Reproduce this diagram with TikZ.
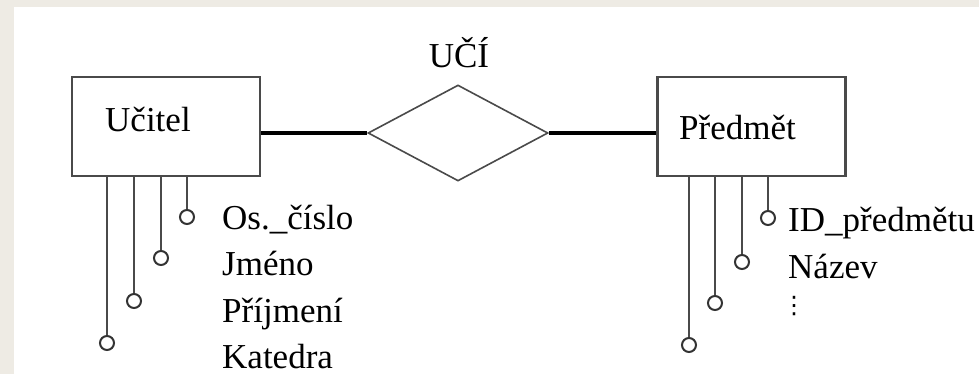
\documentclass[tikz,border=0pt]{standalone}
\usepackage{fontspec}
\setmainfont{Liberation Serif}
\newfontfamily\symfont{DejaVu Sans}
\usepackage{xcolor}
\usetikzlibrary{positioning,shapes.geometric}
\definecolor{pagebg}{HTML}{EEEBE4}
\definecolor{linegray}{HTML}{4A4A4A}

\begin{document}
\begin{tikzpicture}[
    x=1pt, y=-1pt,
    entity_box/.style={
        draw=linegray, line width=2.6pt, fill=white,
        minimum width=188pt, minimum height=99pt, inner sep=0pt
    },
    rel_diamond/.style={
        diamond, draw=linegray, line width=1.6pt,
        minimum width=180pt, minimum height=96pt, inner sep=0pt
    },
    big_text/.style={
        font=\fontsize{35}{42}\selectfont, inner sep=0pt
    },
    link/.style={
        black, line width=3.6pt
    },
    attr_dot/.style={
        circle, draw=black!80, line width=2pt, fill=white,
        minimum size=14pt, inner sep=0pt
    },
    attr_line/.style={
        linegray, line width=2.6pt
    },
    attr_text/.style={
        big_text, anchor=base west
    }
    ]
    % === PODKLAD ===
    \fill[pagebg] (0,0) rectangle (979,374);
    \fill[white] (14,7) rectangle (979,374);
    \useasboundingbox (0,0) rectangle (979,374);

    % === ENTITY ===
    \node[entity_box] (ucitel) at (166,126.5) {};
    \node[big_text, anchor=base west] (ucitel_txt) at (105,132) {Učitel};
    \node[entity_box] (predmet) at (751.5,126.5) {};
    \node[big_text, anchor=base west] (predmet_txt) at (679,140) {Předmět};

    % === VZTAH UČÍ ===
    \node[rel_diamond] (uci) at (458,133) {};
    \node[big_text, anchor=base] (uci_txt) at (459,68) {UČÍ};
    \draw[link] (uci.west -| ucitel.east) -- (uci.west);
    \draw[link] (uci.east) -- (uci.east -| predmet.west);

    % === ATRIBUTY Učitel ===
    \foreach \px/\py [count=\i] in {187/217, 161/258, 134/301, 107/343} {
        \node[attr_dot] (ua\i) at (\px,\py) {};
        \draw[attr_line] (ua\i.north) -- (ua\i.north |- ucitel.south);
    }
    \foreach \txt [count=\i] in {Os.\_číslo, Jméno, Příjmení, Katedra} {
        \node[attr_text] (ut\i) at (222, {229+46.5*(\i-1)}) {\txt};
    }

    % === ATRIBUTY Předmět ===
    \foreach \px/\py [count=\i] in {768/218, 742/262, 715/303, 689/345} {
        \node[attr_dot] (pa\i) at (\px,\py) {};
        \draw[attr_line] (pa\i.north) -- (pa\i.north |- predmet.south);
    }
    \node[attr_text] (pt1) at (788,231) {ID\_předmětu};
    \node[attr_text] (pt2) at (788,278) {Název};
    \node[font=\symfont\fontsize{24}{24}\selectfont, inner sep=0pt] (pt3) at (794,306) {⋮};

\end{tikzpicture}
\end{document}
